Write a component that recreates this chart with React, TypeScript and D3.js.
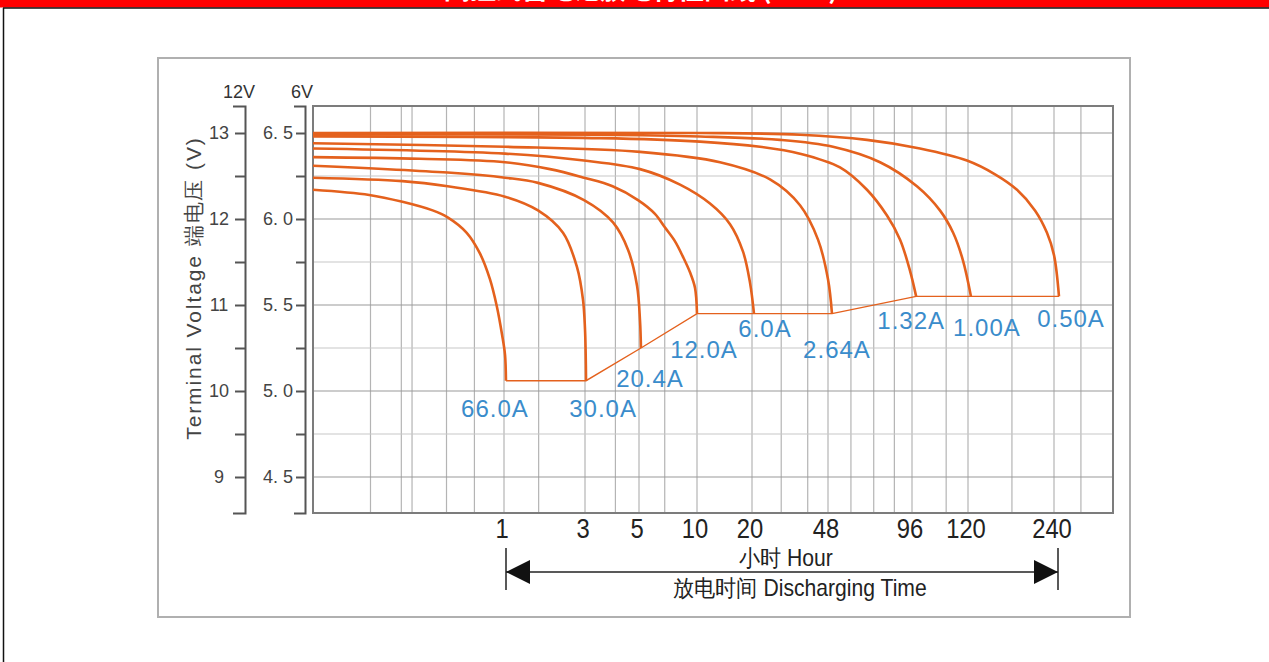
import React, { useEffect, useRef } from 'react';
import * as d3 from 'd3';

// x axis, discharge time in hours (the scale is stretched by hand between the labelled hours)
const hourTicks = [1, 3, 5, 10, 20, 48, 96, 120, 240];
const hourGrid = [0.2, 0.29, 0.33, 0.5, 0.7, 1, 1.6, 3, 4, 5, 6.8, 10, 20, 28, 38, 48, 58, 70, 83, 96, 110, 120, 171, 240, 303];

// y axis, terminal voltage (6V block; the 12V scale is double)
const voltTicks6 = [4.5, 5.0, 5.5, 6.0, 6.5];
const voltGrid = [4.5, 4.75, 5, 5.25, 5.5, 5.75, 6, 6.25, 6.5];

const currents = ['66.0A', '30.0A', '20.4A', '12.0A', '6.0A', '2.64A', '1.32A', '1.00A', '0.50A'];

// discharge curves: hours / volts (6V)
const hours66 = [0.1, 0.197, 0.294, 0.423, 0.507, 0.638, 0.748, 0.844, 0.918, 0.976, 1.014, 1.027];
const volts66 = [6.17, 6.14, 6.10, 6.05, 6.01, 5.92, 5.80, 5.65, 5.49, 5.33, 5.21, 5.06];
const hours30 = [0.1, 0.294, 0.507, 1.014, 1.586, 2.226, 2.692, 2.92, 3.0, 3.02, 3.03];
const volts30 = [6.24, 6.22, 6.19, 6.13, 6.05, 5.92, 5.72, 5.53, 5.36, 5.21, 5.06];
const hours20 = [0.1, 0.507, 1.014, 1.586, 2.96, 3.91, 4.51, 4.91, 5.06, 5.12];
const volts20 = [6.31, 6.27, 6.24, 6.21, 6.11, 5.98, 5.82, 5.61, 5.41, 5.25];
const hours12 = [0.1, 0.361, 1.014, 1.866, 2.96, 3.894, 4.953, 6.05, 6.823, 7.69, 8.458, 9.197, 9.763, 10.0];
const volts12 = [6.36, 6.35, 6.33, 6.29, 6.24, 6.19, 6.11, 6.03, 5.95, 5.87, 5.78, 5.69, 5.60, 5.45];
const hours6 = [0.1, 1.014, 2.96, 5.06, 8.163, 11.78, 15.16, 17.86, 19.5, 20.46];
const volts6 = [6.41, 6.38, 6.34, 6.29, 6.20, 6.09, 5.97, 5.81, 5.63, 5.45];
const hours264 = [0.1, 1.014, 5.06, 13.36, 24.61, 34.77, 42.78, 48.0, 49.6];
const volts264 = [6.44, 6.42, 6.39, 6.33, 6.23, 6.08, 5.88, 5.65, 5.45];
const hours132 = [0.1, 3.457, 10.38, 21.93, 34.77, 53.0, 66.2, 78.1, 87.0, 94.4, 97.6];
const volts132 = [6.48, 6.47, 6.45, 6.42, 6.38, 6.30, 6.17, 6.02, 5.88, 5.70, 5.55];
const hours100 = [0.1, 3.457, 10.38, 27.6, 50.0, 73.75, 97.9, 107.3, 113.1, 117.6, 122.9];
const volts100 = [6.49, 6.49, 6.48, 6.46, 6.42, 6.33, 6.19, 6.05, 5.92, 5.76, 5.55];
const hours050 = [0.1, 10.38, 34.77, 66.2, 99.1, 119.5, 149.2, 178.1, 205.9, 226.8, 240, 250.6];
const volts050 = [6.50, 6.50, 6.49, 6.46, 6.41, 6.34, 6.26, 6.17, 6.05, 5.92, 5.79, 5.55];

const curveHours = [hours66, hours30, hours20, hours12, hours6, hours264, hours132, hours100, hours050];
const curveVolts = [volts66, volts30, volts20, volts12, volts6, volts264, volts132, volts100, volts050];

// label offsets from the end of each curve (px)
const labelDx = [-11, 17, 9, 7, 11, 5, -5, 16, 12];
const labelDy = [36, 36, 39, 44, 23, 44, 33, 40, 31];

const ORANGE = '#e4611d';
const BLUE = '#3a8ccb';
const SANS = "'Liberation Sans', Arial, sans-serif";

const App: React.FC = () => {
  const svgRef = useRef<SVGSVGElement>(null);

  useEffect(() => {
    if (!svgRef.current) return;
    const svg = d3.select(svgRef.current);
    svg.selectAll('*').remove();

    const W = 1269;
    const left = 313, top = 106, plotW = 800, plotH = 407;

    // page chrome (title is cut off by the top edge, as in the source)
    svg.append('rect').attr('x', 0).attr('y', 0).attr('width', W).attr('height', 7.5).attr('fill', '#ff0000');
    svg.append('text').attr('x', 641).attr('y', -1.5).attr('text-anchor', 'middle')
      .attr('fill', '#fff').attr('font-size', 26).attr('font-weight', 'bold')
      .attr('font-family', "'Noto Sans CJK SC', sans-serif")
      .text('阀控式蓄电池放电特性曲线 (25℃)');
    svg.append('line').attr('x1', 3).attr('x2', W).attr('y1', 8).attr('y2', 8).attr('stroke', '#111').attr('stroke-width', 1.5);
    svg.append('line').attr('x1', 3.5).attr('x2', 3.5).attr('y1', 8).attr('y2', 662).attr('stroke', '#111').attr('stroke-width', 1.5);
    svg.append('rect').attr('x', 158).attr('y', 58).attr('width', 972).attr('height', 559)
      .attr('fill', 'none').attr('stroke', '#b0b0b0').attr('stroke-width', 2);

    const x = d3.scaleLog()
      .domain([0.1, ...hourTicks, 400])
      .range([0, 191, 272, 326, 384, 439, 515, 599, 655, 741, 800]);

    const yBase = d3.scaleLinear().domain([4.5, 6.5]).range([371, 27]);
    const y = d3.scaleLinear().domain([yBase.invert(plotH), yBase.invert(0)]).range([plotH, 0]);
    const y12 = d3.scaleLinear().domain(y.domain().map(v => v * 2)).range([plotH, 0]);

    const g = svg.append('g').attr('transform', `translate(${left},${top})`);

    // grid
    g.selectAll('.vgrid').data(hourGrid).join('line').attr('class', 'vgrid')
      .attr('x1', d => x(d)).attr('x2', d => x(d)).attr('y1', 0).attr('y2', plotH)
      .attr('stroke', '#b4b4b4').attr('stroke-width', 1.2);
    g.selectAll('.hgrid').data(voltGrid).join('line').attr('class', 'hgrid')
      .attr('x1', 0).attr('x2', plotW).attr('y1', d => y(d)).attr('y2', d => y(d))
      .attr('stroke', d => (d * 2) % 1 === 0 ? '#9a9a9a' : '#c8c8c8').attr('stroke-width', 1.2);
    g.append('rect').attr('width', plotW).attr('height', plotH)
      .attr('fill', 'none').attr('stroke', '#7c7c7c').attr('stroke-width', 2);

    // curves
    const line = d3.line<[number, number]>()
      .x(d => x(d[0])).y(d => y(d[1]))
      .curve(d3.curveCatmullRom.alpha(0.5));
    curveHours.forEach((hs, i) => {
      g.append('path').attr('d', line(d3.zip(hs, curveVolts[i]) as [number, number][]))
        .attr('fill', 'none').attr('stroke', ORANGE).attr('stroke-width', 2.6);
    });

    // end-of-discharge line
    const ends = curveHours.map((hs, i) => [hs[hs.length - 1], curveVolts[i][curveVolts[i].length - 1]] as [number, number]);
    g.append('path').attr('d', d3.line<[number, number]>().x(d => x(d[0])).y(d => y(d[1]))(ends))
      .attr('fill', 'none').attr('stroke', ORANGE).attr('stroke-width', 1.4);

    // current labels
    g.selectAll('.cur').data(currents).join('text').attr('class', 'cur')
      .attr('x', (d, i) => x(ends[i][0]) + labelDx[i])
      .attr('y', (d, i) => y(ends[i][1]) + labelDy[i])
      .attr('text-anchor', 'middle')
      .attr('font-family', SANS).attr('font-size', 24).attr('letter-spacing', 1)
      .attr('fill', BLUE)
      .text(d => d);

    // 6V axis
    const ax6 = d3.axisLeft(y).tickValues(voltGrid).tickSize(9).tickSizeOuter(11).tickPadding(3)
      .tickFormat(d => voltTicks6.includes(+d) ? d3.format('.1f')(+d).replace('.', '. ') : '');
    const a6 = svg.append('g').attr('transform', `translate(305,${top})`).call(ax6);
    // 12V axis
    const ax12 = d3.axisLeft(y12).tickValues(voltGrid.map(v => v * 2)).tickSize(10).tickSizeOuter(12).tickPadding(6)
      .tickFormat(d => Number.isInteger(+d) ? String(d) : '');
    const a12 = svg.append('g').attr('transform', `translate(245,${top})`).call(ax12);
    [a6, a12].forEach(a => {
      a.select('.domain').attr('stroke', '#555').attr('stroke-width', 2);
      a.selectAll('.tick line').attr('stroke', '#555').attr('stroke-width', 2);
      a.selectAll('.tick text').attr('font-family', SANS).attr('font-size', 18).attr('fill', '#444');
    });
    a12.selectAll('.tick text').attr('text-anchor', 'middle').attr('x', -26);

    svg.append('text').attr('x', 239).attr('y', 98).attr('text-anchor', 'middle')
      .attr('font-family', SANS).attr('font-size', 18).attr('fill', '#333').text('12V');
    svg.append('text').attr('x', 302).attr('y', 98).attr('text-anchor', 'middle')
      .attr('font-family', SANS).attr('font-size', 18).attr('fill', '#333').text('6V');

    svg.append('text').attr('transform', 'translate(193,288) rotate(-90)')
      .attr('text-anchor', 'middle').attr('dominant-baseline', 'central')
      .attr('font-family', SANS).attr('font-size', 21).attr('letter-spacing', 1.9).attr('fill', '#444')
      .text('Terminal Voltage 端电压 (V)');

    // hour labels (condensed, as in the source)
    svg.selectAll('.hr').data(hourTicks).join('text').attr('class', 'hr')
      .attr('transform', d => `translate(${left + x(d) - 2},538) scale(0.85,1)`)
      .attr('text-anchor', 'middle')
      .attr('font-family', SANS).attr('font-size', 28).attr('fill', '#222')
      .text(d => String(d));

    // discharge time arrow
    const ax0 = left + x(1) + 2, ax1 = left + x(240) + 4, ay = 572;
    svg.append('line').attr('x1', ax0).attr('x2', ax1).attr('y1', ay).attr('y2', ay).attr('stroke', '#222').attr('stroke-width', 1.5);
    [ax0, ax1].forEach(xx => {
      svg.append('line').attr('x1', xx).attr('x2', xx).attr('y1', 548).attr('y2', 590).attr('stroke', '#222').attr('stroke-width', 1.5);
    });
    svg.append('path').attr('d', `M${ax0},${ay} L${ax0 + 24},${ay - 12} L${ax0 + 24},${ay + 12} Z`).attr('fill', '#111');
    svg.append('path').attr('d', `M${ax1},${ay} L${ax1 - 24},${ay - 12} L${ax1 - 24},${ay + 12} Z`).attr('fill', '#111');

    svg.append('text').attr('transform', 'translate(786,566) scale(0.92,1)').attr('text-anchor', 'middle')
      .attr('font-family', SANS).attr('font-size', 23).attr('fill', '#222').text('小时 Hour');
    svg.append('text').attr('transform', 'translate(800,596) scale(0.92,1)').attr('text-anchor', 'middle')
      .attr('font-family', SANS).attr('font-size', 23).attr('fill', '#222').text('放电时间 Discharging Time');
  }, []);

  return (
    <svg
      ref={svgRef}
      width={1269}
      height={662}
      viewBox="0 0 1269 662"
      style={{ position: 'absolute', left: 0, top: 0, display: 'block', background: '#fff' }}
    />
  );
};

export default App;
